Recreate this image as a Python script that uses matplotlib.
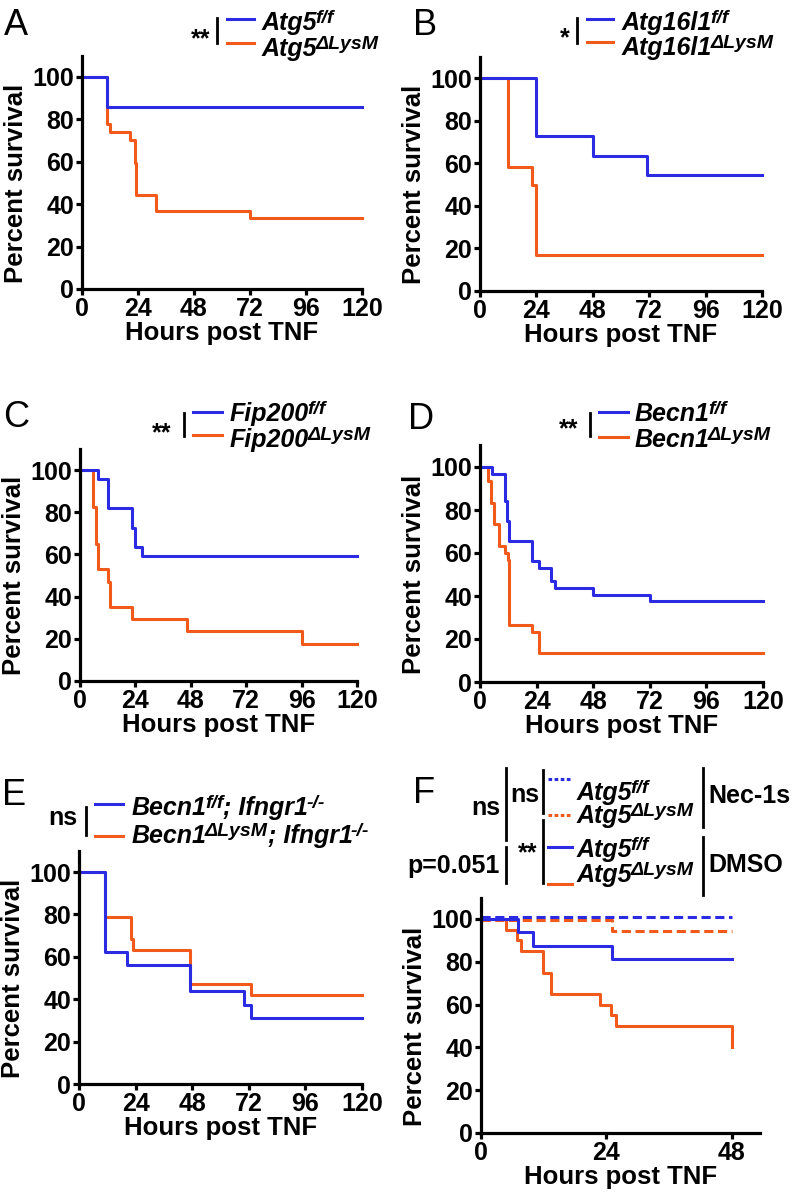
import matplotlib
matplotlib.use('Agg')
import matplotlib.pyplot as plt
from matplotlib.lines import Line2D

plt.rcParams['font.family'] = ['Liberation Sans', 'DejaVu Sans']
plt.rcParams['font.weight'] = 'bold'

BLUE = '#2b2be3'
ORANGE = '#f25a1c'

# ---- data (hours, percent survival) ----
# A: Atg5
a_ff_t = [0, 10.5, 120]
a_ff_s = [100, 85.7, 85.7]
a_ko_t = [0, 10.5, 12, 20.5, 22.5, 23.2, 31.5, 72, 120]
a_ko_s = [100, 77.8, 74.1, 70.4, 59.3, 44.4, 37.0, 33.3, 33.3]
# B: Atg16l1
b_ff_t = [0, 24, 48, 71, 120]
b_ff_s = [100, 72.7, 63.6, 54.5, 54.5]
b_ko_t = [0, 12, 22, 24, 120]
b_ko_s = [100, 58.3, 50.0, 16.7, 16.7]
# C: Fip200
c_ff_t = [0, 8, 12, 22.5, 24, 27, 120]
c_ff_s = [100, 95.5, 81.8, 72.7, 63.6, 59.1, 59.1]
c_ko_t = [0, 5.5, 7, 8, 12, 13, 22.5, 46.5, 96, 120]
c_ko_s = [100, 82.4, 64.7, 52.9, 47.1, 35.3, 29.4, 23.5, 17.6, 17.6]
# D: Becn1
d_ff_t = [0, 5, 10.5, 11.5, 12.5, 22, 25, 30, 32, 48, 72, 120]
d_ff_s = [100, 96.9, 84.4, 75.0, 65.6, 56.3, 53.1, 46.9, 43.8, 40.6, 37.5, 37.5]
d_ko_t = [0, 3.5, 4.5, 6, 8, 10.5, 12, 12.5, 22, 25, 120]
d_ko_s = [100, 93.3, 83.3, 73.3, 63.3, 60.0, 56.7, 26.7, 23.3, 13.3, 13.3]
# E: Becn1; Ifngr1-/-
e_ff_t = [0, 11, 20.5, 47, 70, 73, 120]
e_ff_s = [100, 62.5, 56.3, 43.8, 37.5, 31.3, 31.3]
e_ko_t = [0, 11, 22, 23, 47, 73, 120]
e_ko_s = [100, 78.9, 68.4, 63.2, 47.4, 42.1, 42.1]
# F: Atg5 + Nec-1s / DMSO
nec_ff_t = [0, 48]
nec_ff_s = [101, 101]
nec_ko_t = [0, 25, 48]
nec_ko_s = [99.5, 94.4, 94.4]
dmso_ff_t = [0, 7, 10, 25, 48]
dmso_ff_s = [100, 93.8, 87.5, 81.3, 81.3]
dmso_ko_t = [0, 4.7, 6.8, 7.6, 11.8, 13.4, 22.8, 24.8, 25.8, 48]
dmso_ko_s = [100, 95, 90, 85, 75, 65, 60, 55, 50, 40]

hours_ticks = [0, 24, 48, 72, 96, 120]
hours_ticks_f = [0, 24, 48]
surv_ticks = [0, 20, 40, 60, 80, 100]

W, H = 793, 1193
fig = plt.figure(figsize=(W / 100, H / 100), dpi=100)
renderer = fig.canvas.get_renderer()


def px(x, y):
    return x / W, 1 - y / H


def make_ax(left, y0, width, h100):
    h = h100 * 1.1
    ax = fig.add_axes([left / W, 1 - y0 / H, width / W, h / H])
    ax.width_px = width
    return ax


def style(ax, xmax, xticks):
    ax.set_xlim(0, xmax)
    ax.set_ylim(0, 110)
    ax.set_xticks(xticks)
    ax.set_yticks(surv_ticks)
    for s in ['top', 'right']:
        ax.spines[s].set_visible(False)
    for s in ['left', 'bottom']:
        ax.spines[s].set_linewidth(2.3)
    ax.tick_params(width=2.3, length=4.5, labelsize=18, pad=1)
    ax.set_xlabel('Hours post TNF', fontsize=18.5, fontweight='bold', labelpad=0)
    ax.set_ylabel('Percent survival', fontsize=18.5, fontweight='bold')
    # label centred on the 0-100 range, as in the original
    ax.yaxis.set_label_coords(-54 / ax.width_px, 50 / 110)


def curve(ax, t, s, color, ls='-'):
    ax.step(t, s, where='post', color=color, lw=2.2, ls=ls, clip_on=False)


def vbar(x, y1, y2):
    fig.add_artist(Line2D([x / W, x / W], [1 - y1 / H, 1 - y2 / H], color='black', lw=2.0))


def sample(x1, x2, y, color, ls='-'):
    fig.add_artist(Line2D([x1 / W, x2 / W], [1 - y / H, 1 - y / H], color=color, lw=2.2, ls=ls))


def ftext(x, y, s, **kw):
    kw.setdefault('fontsize', 18)
    kw.setdefault('va', 'baseline')
    fig.text(*px(x, y), s, **kw)


def gene(x, y, pieces, size=18):
    # pieces: list of (text, is_superscript); bold italic, superscripts raised
    cx = x
    for txt, sup in pieces:
        fs = size * 0.78 if sup else size
        yy = y - 7 if sup else y
        t = fig.text(*px(cx, yy), txt, fontsize=fs, fontstyle='italic', va='baseline')
        cx += t.get_window_extent(renderer).width - (0 if sup else 2)


def letter(x, y, s):
    fig.text(*px(x, y), s, fontsize=26, fontweight='normal', va='top', ha='left')


# ---- A ----
ax = make_ax(82, 289, 280, 212)
curve(ax, a_ko_t, a_ko_s, ORANGE)
curve(ax, a_ff_t, a_ff_s, BLUE)
style(ax, 120, hours_ticks)
letter(4, 8, 'A')
ftext(201, 46, '**', ha='center')
vbar(217, 18, 43)
sample(227, 254, 19, BLUE)
sample(227, 254, 43, ORANGE)
gene(262, 30, [('Atg5', False), ('f/f', True)])
gene(262, 56, [('Atg5', False), ('ΔLysM', True)])

# ---- B ----
ax = make_ax(480, 291, 282, 213)
curve(ax, b_ko_t, b_ko_s, ORANGE)
curve(ax, b_ff_t, b_ff_s, BLUE)
style(ax, 120, hours_ticks)
letter(413, 8, 'B')
ftext(565, 45, '*', ha='center')
vbar(577, 18, 43)
sample(587, 613, 19, BLUE)
sample(587, 613, 42, ORANGE)
gene(622, 30, [('Atg16l1', False), ('f/f', True)])
gene(622, 55, [('Atg16l1', False), ('ΔLysM', True)])

# ---- C ----
ax = make_ax(80, 681, 277, 211)
curve(ax, c_ko_t, c_ko_s, ORANGE)
curve(ax, c_ff_t, c_ff_s, BLUE)
style(ax, 120, hours_ticks)
letter(3, 400, 'C')
ftext(162, 440, '**', ha='center')
vbar(184, 413, 436)
sample(193, 222, 412, BLUE)
sample(193, 222, 435, ORANGE)
gene(230, 421, [('Fip200', False), ('f/f', True)])
gene(230, 447, [('Fip200', False), ('ΔLysM', True)])

# ---- D ----
ax = make_ax(480, 682, 283, 215)
curve(ax, d_ko_t, d_ko_s, ORANGE)
curve(ax, d_ff_t, d_ff_s, BLUE)
style(ax, 120, hours_ticks)
letter(408, 402, 'D')
ftext(569, 436, '**', ha='center')
vbar(590, 413, 436)
sample(599, 628, 412, BLUE)
sample(599, 628, 437, ORANGE)
gene(635, 421, [('Becn1', False), ('f/f', True)])
gene(635, 447, [('Becn1', False), ('ΔLysM', True)])

# ---- E ----
ax = make_ax(79, 1084, 283, 212)
curve(ax, e_ko_t, e_ko_s, ORANGE)
curve(ax, e_ff_t, e_ff_s, BLUE)
style(ax, 120, hours_ticks)
letter(2, 778, 'E')
ftext(63, 825, 'ns', ha='center')
vbar(86, 807, 835)
sample(95, 123, 804, BLUE)
sample(95, 123, 836, ORANGE)
gene(132, 815, [('Becn1', False), ('f/f', True), ('; Ifngr1', False), ('-/-', True)])
gene(132, 843, [('Becn1', False), ('ΔLysM', True), ('; Ifngr1', False), ('-/-', True)])

# ---- F ----
ax = make_ax(481, 1133, 279, 214)
curve(ax, nec_ko_t, nec_ko_s, ORANGE, ls=(0, (3, 1.5)))
curve(ax, dmso_ko_t, dmso_ko_s, ORANGE)
curve(ax, dmso_ff_t, dmso_ff_s, BLUE)
curve(ax, nec_ff_t, nec_ff_s, BLUE, ls=(0, (3, 1.5)))
style(ax, 53.4, hours_ticks_f)
letter(413, 776, 'F')
ftext(486, 815, 'ns', ha='center')
vbar(506, 768, 840)
ftext(500, 873, 'p=0.051', ha='right')
vbar(506, 847, 883)
ftext(525, 802, 'ns', ha='center')
vbar(543, 770, 813)
ftext(528, 860, '**', ha='center')
vbar(543, 820, 883)
sample(548, 572, 779, BLUE, ls=(0, (1.2, 0.8)))
sample(548, 572, 815, ORANGE, ls=(0, (1.2, 0.8)))
sample(548, 572, 847, BLUE)
sample(548, 572, 884, ORANGE)
gene(577, 800, [('Atg5', False), ('f/f', True)])
gene(577, 823, [('Atg5', False), ('ΔLysM', True)])
gene(577, 857, [('Atg5', False), ('f/f', True)])
gene(577, 882, [('Atg5', False), ('ΔLysM', True)])
vbar(703, 768, 827)
vbar(703, 837, 895)
ftext(708, 803, 'Nec-1s')
ftext(708, 872, 'DMSO')

fig.savefig('out.png', dpi=100)
